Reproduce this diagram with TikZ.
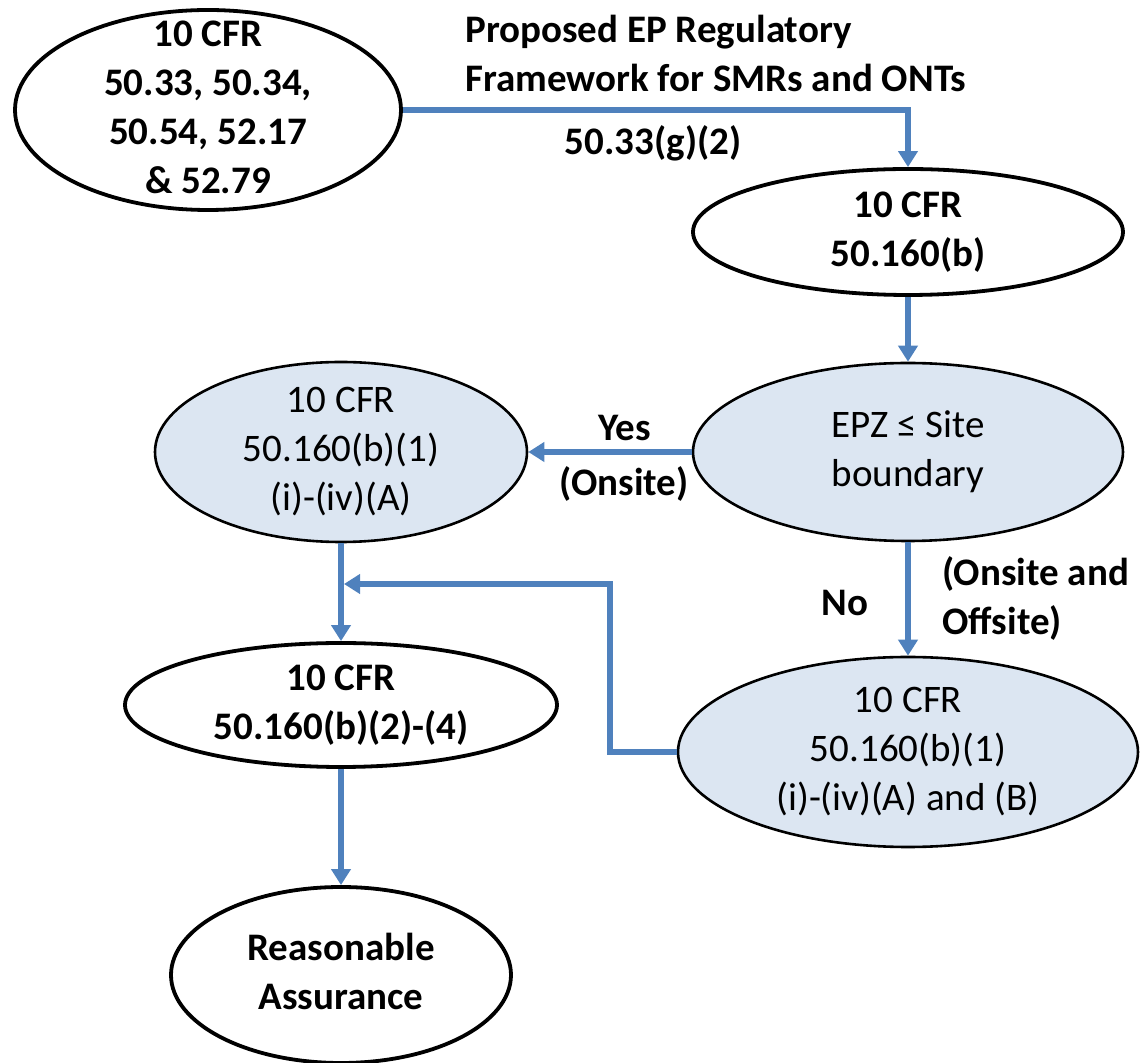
\documentclass[tikz,border=0pt]{standalone}
\usepackage{fontspec}
\setmainfont{Carlito}
\usetikzlibrary{shapes.geometric,arrows.meta}
\definecolor{lnblue}{HTML}{4F81BD}
\definecolor{fillblue}{HTML}{DCE6F2}
\newcommand{\ztext}[1]{\vbox to 0pt{\vss\hbox to 0pt{\hss\begin{tabular}{@{}c@{}}#1\end{tabular}\hss}\vss}}
\tikzset{
  wnode/.style={ellipse, draw=black, line width=1.9pt, fill=white, inner sep=0pt,
    font=\bfseries\fontsize{19.5}{24.5}\selectfont},
  bnode/.style={ellipse, draw=black, line width=1.3pt, fill=fillblue, inner sep=0pt,
    font=\fontsize{19.5}{24.5}\selectfont},
  conn/.style={draw=lnblue, line width=3.2pt, -{Triangle[width=9.5pt,length=8pt]}},
  lbl/.style={font=\bfseries\fontsize{19.5}{24.5}\selectfont, inner sep=0pt},
}
\begin{document}
\begin{tikzpicture}[x=0.5pt,y=-0.5pt]
\useasboundingbox (0,0) rectangle (1148,1063);
% nodes
\node[wnode, minimum width=193pt, minimum height=100pt] (e1) at (208,110)
  {\ztext{10 CFR\\50.33, 50.34,\\50.54, 52.17\\\& 52.79}};
\node[wnode, minimum width=215pt, minimum height=63pt] (e2) at (908,232)
  {\ztext{10 CFR\\50.160(b)}};
\node[bnode, minimum width=215pt, minimum height=89pt] (e3) at (908,452)
  {\ztext{EPZ ≤ Site\\boundary}};
\node[bnode, minimum width=186pt, minimum height=90pt] (e4) at (341,452)
  {\ztext{10 CFR\\50.160(b)(1)\\(i)-(iv)(A)}};
\node[wnode, minimum width=216pt, minimum height=62pt] (e5) at (341,705)
  {\ztext{10 CFR\\50.160(b)(2)-(4)}};
\node[bnode, minimum width=230pt, minimum height=95pt] (e6) at (908,752)
  {\ztext{10 CFR\\50.160(b)(1)\\(i)-(iv)(A) and (B)}};
\node[wnode, minimum width=170pt, minimum height=88pt] (e7) at (341,975)
  {\ztext{Reasonable\\Assurance}};
% labels
\node[lbl, anchor=west, align=left] (tframe) at (465,53)
  {Proposed EP Regulatory\\Framework for SMRs and ONTs};
\node[lbl] (tg) at (653,143) {50.33(g)(2)};
\node[lbl] (tyes) at (625,428) {Yes};
\node[lbl] (tons) at (624,484) {(Onsite)};
\node[lbl] (tno) at (845,603) {No};
\node[lbl, anchor=west, align=left] (tonoff) at (942,598) {(Onsite and\\Offsite)};
% connectors
\draw[conn] (e1.east) -| (e2.north);
\draw[conn] (e2.south) -- (e3.north);
\draw[conn] (e3.west) -- (e4.east);
\draw[conn] (e3.south) -- (e6.north);
\draw[conn] (e4.south) -- (e5.north);
\draw[conn] (e5.south) -- (e7.north);
\coordinate (fbend) at (344,584);
\draw[conn] (e6.west) -| (610,584) -- (fbend);
\end{tikzpicture}
\end{document}
